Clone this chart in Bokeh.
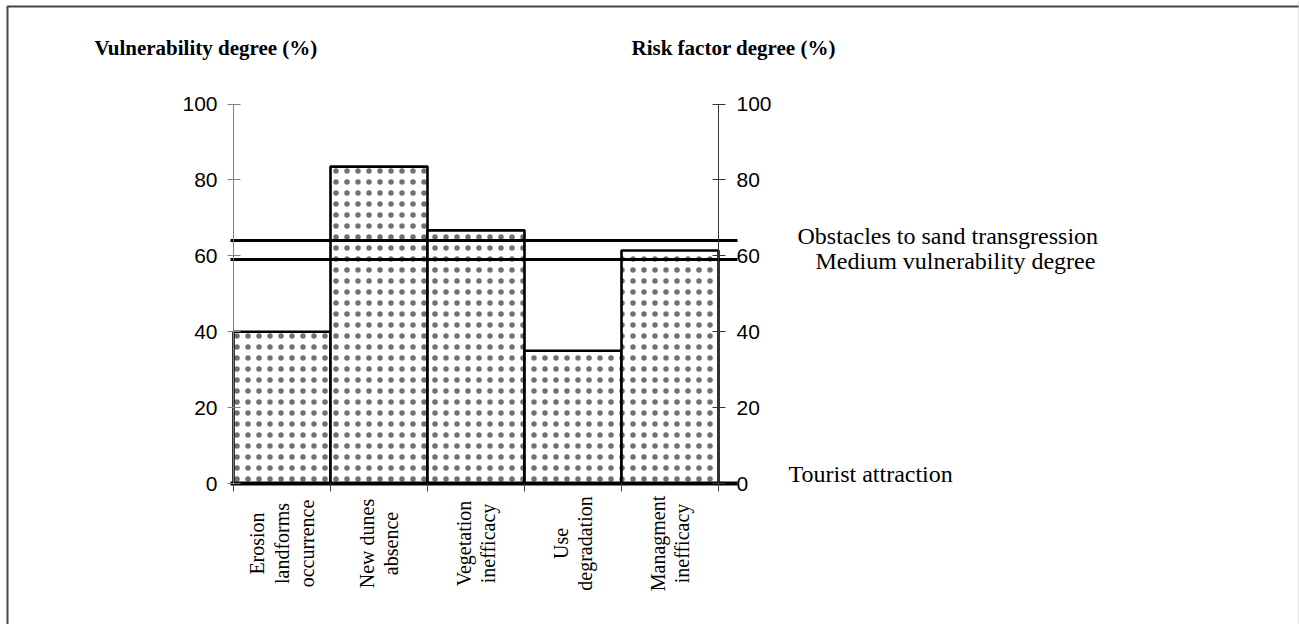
import math
from bokeh.plotting import figure
from bokeh.models import Range1d, LinearAxis, FixedTicker, BoxAnnotation, Span
from bokeh.core.properties import value
from bokeh.embed import file_html
from bokeh.resources import INLINE

# ---------------- data ----------------
categories = [
    "Erosion\nlandforms\noccurrence",
    "New dunes\nabsence",
    "Vegetation\ninefficacy",
    "Use\ndegradation",
    "Managment\ninefficacy",
]
vulnerability = [40.0, 83.5, 66.7, 35.0, 61.4]
ref_names = ["Obstacles to sand transgression", "Medium vulnerability degree", "Tourist attraction"]
ref_values = [64.0, 59.0, 0.0]
y_ticks = [0, 20, 40, 60, 80, 100]
left_title = "Vulnerability degree (%)"
right_title = "Risk factor degree (%)"

# ---------------- geometry (pixels) ----------------
W, H = 1299, 624
X0PX, XSCALE = 233.0, 97.0      # pixel of x=0, pixels per category
Y0PX, YSCALE = 483.0, 3.795     # pixel of y=0, pixels per percent


def dx(px):
    return (px - X0PX) / XSCALE


def dy(py):
    return (Y0PX - py) / YSCALE


n = len(categories)
p = figure(width=W, height=H,
           x_range=Range1d(dx(0), dx(W)), y_range=Range1d(dy(H), dy(0)),
           output_backend="svg", toolbar_location=None,
           x_axis_location=None, y_axis_location=None,
           min_border=0, outline_line_color=None,
           background_fill_color="white", border_fill_color="white")
for r in list(p.center):
    if hasattr(r, "grid_line_color"):
        r.visible = False

# bars
p.quad(left=list(range(n)), right=[i + 1 for i in range(n)],
       bottom=[0] * n, top=vulnerability,
       fill_color="white", line_color="black", line_width=2.6,
       hatch_pattern="dot", hatch_color="#333333", hatch_alpha=0.7,
       hatch_scale=11, hatch_weight=0.8)

# reference lines
line_widths = [3, 3, 4]
for v, lw in zip(ref_values, line_widths):
    p.segment(x0=[dx(230)], y0=[v], x1=[dx(737)], y1=[v], line_color="black", line_width=lw)

# axes
common = dict(ticker=FixedTicker(ticks=y_ticks), bounds=(0, 100),
              major_label_text_font="Liberation Sans",
              major_label_text_font_size="21px", major_label_text_color="black",
              minor_tick_line_color=None, major_tick_line_width=1)
yl = LinearAxis(fixed_location=0, axis_line_color="#808080", major_tick_line_color="#808080",
                major_tick_in=7, major_tick_out=6, major_label_standoff=10, **common)
p.add_layout(yl, "left")
yr = LinearAxis(fixed_location=n, axis_line_color="#333333", major_tick_line_color="#333333",
                major_tick_in=6, major_tick_out=7, major_label_standoff=11, **common)
p.add_layout(yr, "right")
xb = LinearAxis(fixed_location=0, bounds=(0, n), ticker=FixedTicker(ticks=list(range(n + 1))),
                axis_line_color=None, major_tick_line_color="#444444",
                major_tick_in=0, major_tick_out=8, minor_tick_line_color=None,
                major_label_overrides={i: "" for i in range(n + 1)})
p.add_layout(xb, "below")

# category labels
p.text(x=[i + 0.5 for i in range(n)], y=[dy(543)] * n, text=categories,
       angle=math.pi / 2, text_align="center", text_baseline="middle",
       text_font=value("Liberation Serif"), text_font_size="20px",
       text_color="black", text_line_height=1.13)

# axis titles
p.text(x=[dx(94), dx(631)], y=[dy(54)] * 2, text=[left_title, right_title],
       y_offset=-7,
       text_align="left", text_baseline="alphabetic",
       text_font=value("Liberation Serif"), text_font_style="bold",
       text_font_size="21px", text_color="black")

# reference line labels
label_px_x = [797, 815, 788]
label_offsets = [-5, 1, -10]
for name, v, px, off in zip(ref_names, ref_values, label_px_x, label_offsets):
    p.text(x=[dx(px)], y=[v], text=[name], y_offset=off,
           text_align="left", text_baseline="alphabetic",
           text_font=value("Liberation Serif"), text_font_size="24px", text_color="black")

# outer frame
p.add_layout(BoxAnnotation(left=dx(7), right=dx(1305), top=dy(6), bottom=dy(720),
                           fill_color=None, fill_alpha=0, line_color="#444444",
                           line_alpha=1.0, line_width=2))
p.add_layout(Span(location=dx(1298.5), dimension="height", line_color="#c8c8c8", line_width=1))

open("out.html", "w").write(file_html(p, INLINE))
